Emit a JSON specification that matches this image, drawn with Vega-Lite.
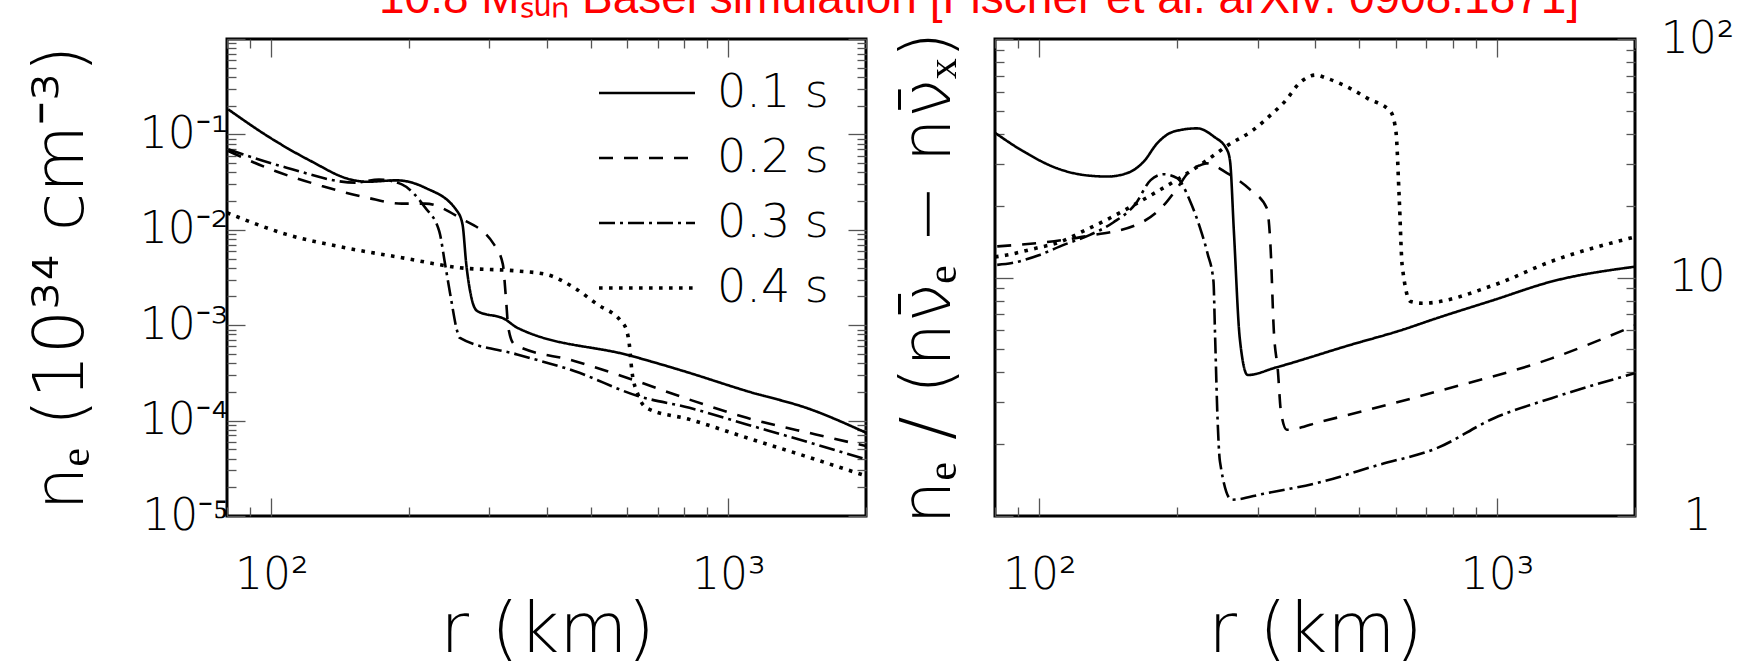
{
  "$schema": "https://vega.github.io/schema/vega-lite/v6.json",
  "background": "white",
  "padding": {"left": 24, "top": -25, "right": 0, "bottom": 0},
  "title": {"text": "10.8 Mₛᵤₙ  Basel simulation [Fischer et al. arXiv: 0908.1871]", "color": "#ff0000", "fontSize": 46, "font": "Liberation Sans", "fontWeight": "normal", "anchor": "start", "frame": "group", "dx": 152, "offset": -7},
  "datasets": {
    "left": [
      {"r": 80.5, "v": 0.183, "t": "0.1 s"}, {"r": 99.4, "v": 0.0923, "t": "0.1 s"}, {"r": 122, "v": 0.0526, "t": "0.1 s"}, {"r": 149, "v": 0.0337, "t": "0.1 s"}, {"r": 162, "v": 0.0319, "t": "0.1 s"}, {"r": 188, "v": 0.033, "t": "0.1 s"}, {"r": 217, "v": 0.0276, "t": "0.1 s"}, {"r": 255, "v": 0.0157, "t": "0.1 s"}, {"r": 262, "v": 0.0114, "t": "0.1 s"}, {"r": 267, "v": 0.00437, "t": "0.1 s"}, {"r": 274, "v": 0.00195, "t": "0.1 s"}, {"r": 282, "v": 0.00141, "t": "0.1 s"}, {"r": 325, "v": 0.00115, "t": "0.1 s"}, {"r": 345, "v": 0.000942, "t": "0.1 s"}, {"r": 615, "v": 0.000475, "t": "0.1 s"}, {"r": 797, "v": 0.000331, "t": "0.1 s"}, {"r": 1097, "v": 0.000204, "t": "0.1 s"}, {"r": 1507, "v": 0.000132, "t": "0.1 s"}, {"r": 2000, "v": 0.0000746, "t": "0.1 s"},
      {"r": 80.5, "v": 0.067, "t": "0.2 s"}, {"r": 102, "v": 0.0413, "t": "0.2 s"}, {"r": 129, "v": 0.0288, "t": "0.2 s"}, {"r": 162, "v": 0.0217, "t": "0.2 s"}, {"r": 193, "v": 0.0188, "t": "0.2 s"}, {"r": 217, "v": 0.0188, "t": "0.2 s"}, {"r": 258, "v": 0.0134, "t": "0.2 s"}, {"r": 307, "v": 0.00703, "t": "0.2 s"}, {"r": 321, "v": 0.00437, "t": "0.2 s"}, {"r": 326, "v": 0.00195, "t": "0.2 s"}, {"r": 330, "v": 0.000942, "t": "0.2 s"}, {"r": 340, "v": 0.000631, "t": "0.2 s"}, {"r": 460, "v": 0.000422, "t": "0.2 s"}, {"r": 615, "v": 0.00027, "t": "0.2 s"}, {"r": 822, "v": 0.000166, "t": "0.2 s"}, {"r": 1097, "v": 0.000107, "t": "0.2 s"}, {"r": 1553, "v": 0.0000716, "t": "0.2 s"}, {"r": 2000, "v": 0.0000542, "t": "0.2 s"},
      {"r": 80.5, "v": 0.0697, "t": "0.3 s"}, {"r": 108, "v": 0.0448, "t": "0.3 s"}, {"r": 153, "v": 0.0312, "t": "0.3 s"}, {"r": 172, "v": 0.0337, "t": "0.3 s"}, {"r": 193, "v": 0.0299, "t": "0.3 s"}, {"r": 217, "v": 0.0171, "t": "0.3 s"}, {"r": 233, "v": 0.0097, "t": "0.3 s"}, {"r": 240, "v": 0.00437, "t": "0.3 s"}, {"r": 247, "v": 0.00195, "t": "0.3 s"}, {"r": 255, "v": 0.000871, "t": "0.3 s"}, {"r": 258, "v": 0.000741, "t": "0.3 s"}, {"r": 345, "v": 0.000494, "t": "0.3 s"}, {"r": 460, "v": 0.000331, "t": "0.3 s"}, {"r": 634, "v": 0.000181, "t": "0.3 s"}, {"r": 822, "v": 0.000136, "t": "0.3 s"}, {"r": 1097, "v": 0.0000912, "t": "0.3 s"}, {"r": 1466, "v": 0.0000611, "t": "0.3 s"}, {"r": 2000, "v": 0.0000392, "t": "0.3 s"},
      {"r": 80, "v": 0.0151, "t": "0.4 s"}, {"r": 108, "v": 0.00895, "t": "0.4 s"}, {"r": 145, "v": 0.00649, "t": "0.4 s"}, {"r": 193, "v": 0.0051, "t": "0.4 s"}, {"r": 258, "v": 0.00401, "t": "0.4 s"}, {"r": 345, "v": 0.0037, "t": "0.4 s"}, {"r": 399, "v": 0.00341, "t": "0.4 s"}, {"r": 460, "v": 0.00247, "t": "0.4 s"}, {"r": 517, "v": 0.00165, "t": "0.4 s"}, {"r": 581, "v": 0.00111, "t": "0.4 s"}, {"r": 598, "v": 0.000904, "t": "0.4 s"}, {"r": 607, "v": 0.000631, "t": "0.4 s"}, {"r": 615, "v": 0.000331, "t": "0.4 s"}, {"r": 634, "v": 0.000188, "t": "0.4 s"}, {"r": 662, "v": 0.000136, "t": "0.4 s"}, {"r": 822, "v": 0.000103, "t": "0.4 s"}, {"r": 1097, "v": 0.0000661, "t": "0.4 s"}, {"r": 1466, "v": 0.0000427, "t": "0.4 s"}, {"r": 2000, "v": 0.0000263, "t": "0.4 s"}
    ],
    "right": [
      {"r": 80.2, "v": 40.3, "t": "0.1 s"}, {"r": 92.5, "v": 33.7, "t": "0.1 s"}, {"r": 109.3, "v": 28.7, "t": "0.1 s"}, {"r": 125, "v": 26.9, "t": "0.1 s"}, {"r": 140.6, "v": 26.5, "t": "0.1 s"}, {"r": 155.5, "v": 27.4, "t": "0.1 s"}, {"r": 169, "v": 30.6, "t": "0.1 s"}, {"r": 180.8, "v": 36.5, "t": "0.1 s"}, {"r": 196.5, "v": 40.9, "t": "0.1 s"}, {"r": 221, "v": 42.2, "t": "0.1 s"}, {"r": 240.4, "v": 39.0, "t": "0.1 s"}, {"r": 257, "v": 34.3, "t": "0.1 s"}, {"r": 261, "v": 30.6, "t": "0.1 s"}, {"r": 266, "v": 15.6, "t": "0.1 s"}, {"r": 274, "v": 5.56, "t": "0.1 s"}, {"r": 285, "v": 3.9, "t": "0.1 s"}, {"r": 328, "v": 4.19, "t": "0.1 s"}, {"r": 477, "v": 5.21, "t": "0.1 s"}, {"r": 620, "v": 6.03, "t": "0.1 s"}, {"r": 736, "v": 6.74, "t": "0.1 s"}, {"r": 984, "v": 8.05, "t": "0.1 s"}, {"r": 1315, "v": 9.62, "t": "0.1 s"}, {"r": 2000, "v": 11.1, "t": "0.1 s"},
      {"r": 80.9, "v": 13.5, "t": "0.2 s"}, {"r": 124, "v": 14.8, "t": "0.2 s"}, {"r": 166, "v": 16.9, "t": "0.2 s"}, {"r": 187, "v": 20.1, "t": "0.2 s"}, {"r": 200, "v": 23.7, "t": "0.2 s"}, {"r": 214, "v": 28.2, "t": "0.2 s"}, {"r": 225, "v": 29.6, "t": "0.2 s"}, {"r": 232, "v": 30.1, "t": "0.2 s"}, {"r": 257, "v": 27.4, "t": "0.2 s"}, {"r": 289, "v": 23.3, "t": "0.2 s"}, {"r": 314, "v": 19.5, "t": "0.2 s"}, {"r": 320, "v": 13.2, "t": "0.2 s"}, {"r": 325, "v": 6.1, "t": "0.2 s"}, {"r": 332, "v": 4.03, "t": "0.2 s"}, {"r": 337, "v": 2.74, "t": "0.2 s"}, {"r": 347, "v": 2.3, "t": "0.2 s"}, {"r": 413, "v": 2.49, "t": "0.2 s"}, {"r": 736, "v": 3.32, "t": "0.2 s"}, {"r": 1315, "v": 4.58, "t": "0.2 s"}, {"r": 2000, "v": 6.3, "t": "0.2 s"},
      {"r": 80.9, "v": 11.3, "t": "0.3 s"}, {"r": 87.1, "v": 11.5, "t": "0.3 s"}, {"r": 99.7, "v": 12.4, "t": "0.3 s"}, {"r": 113, "v": 13.7, "t": "0.3 s"}, {"r": 129, "v": 15.1, "t": "0.3 s"}, {"r": 145, "v": 17.0, "t": "0.3 s"}, {"r": 162, "v": 20.3, "t": "0.3 s"}, {"r": 175, "v": 25.6, "t": "0.3 s"}, {"r": 187, "v": 27.1, "t": "0.3 s"}, {"r": 200, "v": 26.1, "t": "0.3 s"}, {"r": 213, "v": 21.1, "t": "0.3 s"}, {"r": 224, "v": 16.3, "t": "0.3 s"}, {"r": 233, "v": 12.6, "t": "0.3 s"}, {"r": 240, "v": 9.67, "t": "0.3 s"}, {"r": 242, "v": 5.7, "t": "0.3 s"}, {"r": 245, "v": 2.57, "t": "0.3 s"}, {"r": 248, "v": 1.69, "t": "0.3 s"}, {"r": 263, "v": 1.17, "t": "0.3 s"}, {"r": 309, "v": 1.24, "t": "0.3 s"}, {"r": 413, "v": 1.39, "t": "0.3 s"}, {"r": 552, "v": 1.64, "t": "0.3 s"}, {"r": 736, "v": 1.92, "t": "0.3 s"}, {"r": 984, "v": 2.57, "t": "0.3 s"}, {"r": 1315, "v": 3.12, "t": "0.3 s"}, {"r": 2000, "v": 3.97, "t": "0.3 s"},
      {"r": 80, "v": 12.2, "t": "0.4 s"}, {"r": 84.4, "v": 12.4, "t": "0.4 s"}, {"r": 97.2, "v": 13.2, "t": "0.4 s"}, {"r": 111, "v": 14.1, "t": "0.4 s"}, {"r": 126, "v": 15.8, "t": "0.4 s"}, {"r": 143, "v": 17.8, "t": "0.4 s"}, {"r": 162, "v": 20.3, "t": "0.4 s"}, {"r": 182, "v": 23.1, "t": "0.4 s"}, {"r": 205, "v": 26.5, "t": "0.4 s"}, {"r": 231, "v": 30.8, "t": "0.4 s"}, {"r": 259, "v": 36.0, "t": "0.4 s"}, {"r": 292, "v": 41.3, "t": "0.4 s"}, {"r": 325, "v": 49.3, "t": "0.4 s"}, {"r": 342, "v": 54.1, "t": "0.4 s"}, {"r": 373, "v": 66.3, "t": "0.4 s"}, {"r": 401, "v": 70.6, "t": "0.4 s"}, {"r": 425, "v": 68.4, "t": "0.4 s"}, {"r": 477, "v": 62.1, "t": "0.4 s"}, {"r": 521, "v": 56.4, "t": "0.4 s"}, {"r": 585, "v": 49.6, "t": "0.4 s"}, {"r": 601, "v": 40.9, "t": "0.4 s"}, {"r": 611, "v": 21.5, "t": "0.4 s"}, {"r": 620, "v": 11.3, "t": "0.4 s"}, {"r": 647, "v": 7.93, "t": "0.4 s"}, {"r": 686, "v": 7.8, "t": "0.4 s"}, {"r": 984, "v": 9.3, "t": "0.4 s"}, {"r": 1315, "v": 11.7, "t": "0.4 s"}, {"r": 2000, "v": 14.8, "t": "0.4 s"}
    ]
  },
  "spacing": 129,
  "bounds": "flush",
  "resolve": {"scale": {"strokeDash": "independent", "strokeWidth": "independent"}, "legend": {"strokeDash": "independent", "strokeWidth": "independent"}},
  "hconcat": [
    {
      "width": 639,
      "height": 477,
      "resolve": {"axis": {"x": "independent", "y": "independent"}},
      "layer": [
        {
          "data": {"name": "left"},
          "mark": {"type": "line", "interpolate": "monotone", "color": "black", "clip": true},
          "encoding": {
            "x": {"field": "r", "type": "quantitative", "scale": {"type": "log", "domain": [80, 2000]},
              "axis": {"orient": "bottom", "values": [80, 90, 100, 200, 300, 400, 500, 600, 700, 800, 900, 1000, 2000],
                "labelExpr": "datum.value == 100 ? '10²' : datum.value == 1000 ? '10³' : ''",
                "labelPadding": 55,
                "tickSize": {"condition": {"test": "datum.value == 100 || datum.value == 1000", "value": -18}, "value": -9},
                "title": "r (km)", "titleX": 320, "titleY": 135, "titleBaseline": "alphabetic", "titleAlign": "center", "titleAngle": 0}},
            "y": {"field": "v", "type": "quantitative", "scale": {"type": "log", "domain": [0.00001, 1]},
              "axis": {"orient": "left",
                "values": [0.00001, 0.00002, 0.00003, 0.00004, 0.00005, 0.00006, 0.00007, 0.00008, 0.00009, 0.0001, 0.0002, 0.0003, 0.0004, 0.0005, 0.0006, 0.0007, 0.0008, 0.0009, 0.001, 0.002, 0.003, 0.004, 0.005, 0.006, 0.007, 0.008, 0.009, 0.01, 0.02, 0.03, 0.04, 0.05, 0.06, 0.07, 0.08, 0.09, 0.1, 0.2, 0.3, 0.4, 0.5, 0.6, 0.7, 0.8, 0.9, 1],
                "labelExpr": "datum.value == 0.1 ? '10⁻¹' : datum.value == 0.01 ? '10⁻²' : datum.value == 0.001 ? '10⁻³' : datum.value == 0.0001 ? '10⁻⁴' : datum.value == 0.00001 ? '10⁻⁵' : ''",
                "labelPadding": 17,
                "tickSize": {"condition": {"test": "abs(log(datum.value)/LN10 - round(log(datum.value)/LN10)) < 0.001", "value": -18}, "value": -9},
                "title": "nₑ (10³⁴ cm⁻³)", "titleX": -145, "titleY": 238.5, "titleAngle": -90, "titleBaseline": "alphabetic", "titleAlign": "center"}},
            "strokeDash": {"field": "t", "type": "nominal",
              "scale": {"domain": ["0.1 s", "0.2 s", "0.3 s", "0.4 s"], "range": [[1, 0], [14, 11], [16, 5, 3, 5], [3.6, 6.4]]},
              "legend": {"orient": "none", "legendX": 370, "legendY": 34, "title": null, "symbolType": "stroke", "symbolSize": 9216, "symbolStrokeColor": "black", "labelFontSize": 46, "labelFont": "DejaVu Sans", "labelFontWeight": 200, "labelColor": "black", "labelOffset": 20, "clipHeight": 40, "rowPadding": 19, "padding": 0}},
            "strokeWidth": {"field": "t", "type": "nominal",
              "scale": {"type": "ordinal", "domain": ["0.1 s", "0.2 s", "0.3 s", "0.4 s"], "range": [2.6, 2.6, 2.6, 3.6]},
              "legend": {"orient": "none", "legendX": 370, "legendY": 34, "title": null, "symbolType": "stroke", "symbolSize": 9216, "symbolStrokeColor": "black", "labelFontSize": 46, "labelFont": "DejaVu Sans", "labelFontWeight": 200, "labelColor": "black", "labelOffset": 20, "clipHeight": 40, "rowPadding": 19, "padding": 0}}
          }
        },
        {
          "data": {"name": "left"},
          "mark": {"type": "point", "opacity": 0},
          "encoding": {
            "x": {"field": "r", "type": "quantitative", "scale": {"type": "log", "domain": [80, 2000]},
              "axis": {"orient": "top", "values": [80, 90, 100, 200, 300, 400, 500, 600, 700, 800, 900, 1000, 2000], "labels": false, "title": null,
                "tickSize": {"condition": {"test": "datum.value == 100 || datum.value == 1000", "value": -18}, "value": -9}}},
            "y": {"field": "v", "type": "quantitative", "scale": {"type": "log", "domain": [0.00001, 1]},
              "axis": {"orient": "right", "labels": false, "title": null,
                "values": [0.00001, 0.00002, 0.00003, 0.00004, 0.00005, 0.00006, 0.00007, 0.00008, 0.00009, 0.0001, 0.0002, 0.0003, 0.0004, 0.0005, 0.0006, 0.0007, 0.0008, 0.0009, 0.001, 0.002, 0.003, 0.004, 0.005, 0.006, 0.007, 0.008, 0.009, 0.01, 0.02, 0.03, 0.04, 0.05, 0.06, 0.07, 0.08, 0.09, 0.1, 0.2, 0.3, 0.4, 0.5, 0.6, 0.7, 0.8, 0.9, 1],
                "tickSize": {"condition": {"test": "abs(log(datum.value)/LN10 - round(log(datum.value)/LN10)) < 0.001", "value": -18}, "value": -9}}}
          }
        }
      ]
    },
    {
      "width": 640,
      "height": 477,
      "resolve": {"axis": {"x": "independent", "y": "independent"}},
      "layer": [
        {
          "data": {"name": "right"},
          "mark": {"type": "line", "interpolate": "monotone", "color": "black", "clip": true},
          "encoding": {
            "x": {"field": "r", "type": "quantitative", "scale": {"type": "log", "domain": [80, 2000]},
              "axis": {"orient": "bottom", "values": [80, 90, 100, 200, 300, 400, 500, 600, 700, 800, 900, 1000, 2000],
                "labelExpr": "datum.value == 100 ? '10²' : datum.value == 1000 ? '10³' : ''",
                "labelPadding": 55,
                "tickSize": {"condition": {"test": "datum.value == 100 || datum.value == 1000", "value": -18}, "value": -9},
                "title": "r (km)", "titleX": 320, "titleY": 135, "titleBaseline": "alphabetic", "titleAlign": "center", "titleAngle": 0}},
            "y": {"field": "v", "type": "quantitative", "scale": {"type": "log", "domain": [1, 100]},
              "axis": {"orient": "left", "labels": false,
                "values": [1, 2, 3, 4, 5, 6, 7, 8, 9, 10, 20, 30, 40, 50, 60, 70, 80, 90, 100],
                "tickSize": {"condition": {"test": "datum.value == 1 || datum.value == 10 || datum.value == 100", "value": -18}, "value": -9},
                "title": "nₑ / (nν̄ₑ − nν̄ₓ)", "titleX": -46, "titleY": 238.5, "titleAngle": -90, "titleBaseline": "alphabetic", "titleAlign": "center"}},
            "strokeDash": {"field": "t", "type": "nominal",
              "scale": {"domain": ["0.1 s", "0.2 s", "0.3 s", "0.4 s"], "range": [[1, 0], [14, 11], [16, 5, 3, 5], [3.6, 6.4]]},
              "legend": null},
            "strokeWidth": {"field": "t", "type": "nominal",
              "scale": {"type": "ordinal", "domain": ["0.1 s", "0.2 s", "0.3 s", "0.4 s"], "range": [2.6, 2.6, 2.6, 3.6]},
              "legend": null}
          }
        },
        {
          "data": {"name": "right"},
          "mark": {"type": "point", "opacity": 0},
          "encoding": {
            "x": {"field": "r", "type": "quantitative", "scale": {"type": "log", "domain": [80, 2000]},
              "axis": {"orient": "top", "values": [80, 90, 100, 200, 300, 400, 500, 600, 700, 800, 900, 1000, 2000], "labels": false, "title": null,
                "tickSize": {"condition": {"test": "datum.value == 100 || datum.value == 1000", "value": -18}, "value": -9}}},
            "y": {"field": "v", "type": "quantitative", "scale": {"type": "log", "domain": [1, 100]},
              "axis": {"orient": "right", "title": null,
                "values": [1, 2, 3, 4, 5, 6, 7, 8, 9, 10, 20, 30, 40, 50, 60, 70, 80, 90, 100],
                "labelExpr": "datum.value == 1 ? '1' : datum.value == 10 ? '10' : datum.value == 100 ? '10²' : ''",
                "labelAlign": "center", "labelPadding": 80,
                "tickSize": {"condition": {"test": "datum.value == 1 || datum.value == 10 || datum.value == 100", "value": -18}, "value": -9}}}
          }
        }
      ]
    }
  ],
  "config": {
    "view": {"stroke": "black", "strokeWidth": 3},
    "axis": {"domain": false, "grid": false, "labelColor": "black", "titleColor": "black", "tickColor": "#555", "tickWidth": 1.3,
      "labelFont": "DejaVu Sans", "labelFontWeight": 200, "titleFont": "DejaVu Sans", "titleFontWeight": 200,
      "labelFontSize": 44, "titleFontSize": 70, "labelOverlap": false, "labelFlush": false, "labelBound": false}
  }
}
